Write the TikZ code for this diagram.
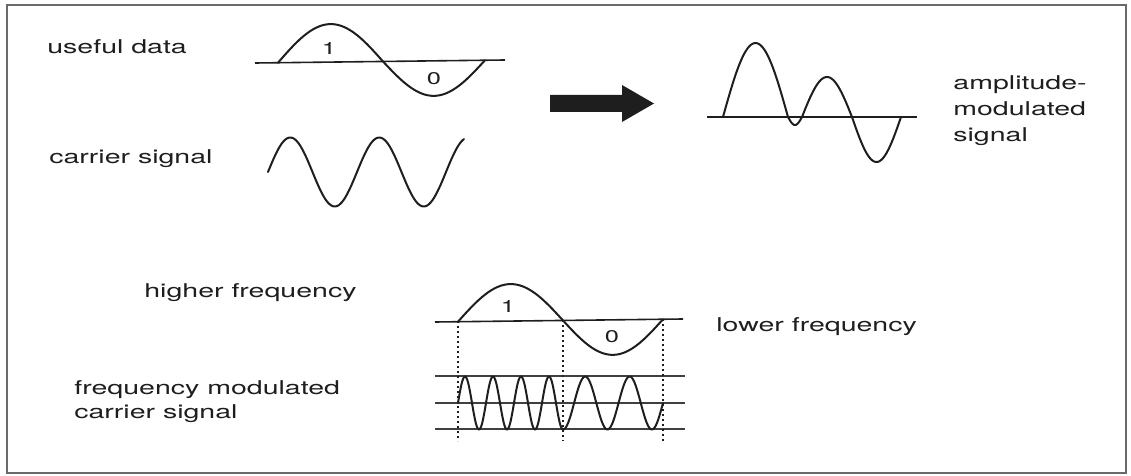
\documentclass[tikz,border=0pt]{standalone}
\usepackage{fontspec}
\setmainfont{TeX Gyre Heros}[FakeStretch=1.5]
\definecolor{ink}{HTML}{1E1E1E}
\definecolor{frame}{HTML}{6A6A6A}
\begin{document}
\begin{tikzpicture}[x=0.5pt,y=-0.5pt,
  wave/.style={line width=1pt, draw=ink, line join=round, line cap=round},
  axis/.style={line width=0.8pt, draw=ink},
  guide/.style={line width=0.6pt, draw=ink!85},
  dotline/.style={line width=0.9pt, dash pattern=on 0.9pt off 1.6pt, draw=ink},
  lbl/.style={font=\fontsize{9.5}{13}\selectfont, text=ink, inner sep=0pt, anchor=base west, align=left},
  lbltwo/.style={lbl, font=\fontsize{9.5}{12}\selectfont},
  digit/.style={font=\fontsize{8.5}{9}\selectfont, text=ink, inner sep=0pt}]
\useasboundingbox (0,0) rectangle (1131,476);
% frame
\draw[frame, line width=0.8pt] (7,5) rectangle (1126,473);

% labels (multi-line nodes: base = last line)
\node[lbl] (useful) at (47,54) {useful data};
\node[lbl] (carrier) at (49,164) {carrier signal};
\node[lbl] (am) at (953,142) {amplitude-\\modulated\\signal};
\node[lbl] (higher) at (144,298) {higher frequency};
\node[lbl] (lower) at (716,331) {lower frequency};
\node[lbltwo] (fm) at (74,418) {frequency modulated\\carrier signal};

% useful data waveform
\draw[axis] (255,63) coordinate (d1a) -- (505,60) coordinate (d1b);
\draw[wave] plot[domain=278:383, samples=60] (\x, {63-0.012*(\x-255) - 38*sin(((\x-278)/105)*180)})
  -- plot[domain=383:485, samples=60] (\x, {63-0.012*(\x-255) + 35*sin(((\x-383)/102)*180)});
\node[digit] (one1) at (329,48) {1};
\node[digit] (zero1) at (434,79) {0};

% carrier signal
\draw[wave] plot[domain=268:464, samples=120] (\x, {172 - 34.5*sin(((\x-268)/89)*360)});

% big arrow
\fill[ink] (550,95) -- (622,95) -- (622,85) -- (654,103.5) -- (622,122) -- (622,112) -- (550,112) -- cycle;

% amplitude-modulated signal
\draw[axis] (707,117) -- (917,117);
\draw[wave] plot[domain=723:788, samples=40] (\x, {117 - 74*sin(((\x-723)/65)*180)})
  -- plot[domain=788:802, samples=15] (\x, {117 + 8*sin(((\x-788)/14)*180)})
  -- plot[domain=802:852, samples=35] (\x, {117 - 40*sin(((\x-802)/50)*180)})
  -- plot[domain=852:901, samples=35] (\x, {117 + 45*sin(((\x-852)/49)*180)});

% lower data waveform
\draw[axis] (435,322) -- (683,319);
\draw[wave] plot[domain=458:563, samples=60] (\x, {322-0.0121*(\x-435) - 37*sin(((\x-458)/105)*180)})
  -- plot[domain=563:663, samples=60] (\x, {322-0.0121*(\x-435) + 35*sin(((\x-563)/100)*180)});
\node[digit] (one2) at (508,306) {1};
\node[digit] (zero2) at (612,337) {0};

% FM guides
\draw[guide] (435,376) -- (685,376);
\draw[guide] (435,403) -- (685,403);
\draw[guide] (435,429) -- (685,429);
% dotted verticals
\draw[dotline] (458,321) -- (458,441);
\draw[dotline] (563,320) -- (563,441);
\draw[dotline] (663,319) -- (663,441);
% FM carrier
\draw[wave] plot[domain=458:563, samples=160] (\x, {403 - 26.5*sin(((\x-458)/28)*360)})
  -- plot[domain=563:663, samples=100] (\x, {403 + 26.5*cos(((\x-563)/44.44)*360)});
\end{tikzpicture}
\end{document}
